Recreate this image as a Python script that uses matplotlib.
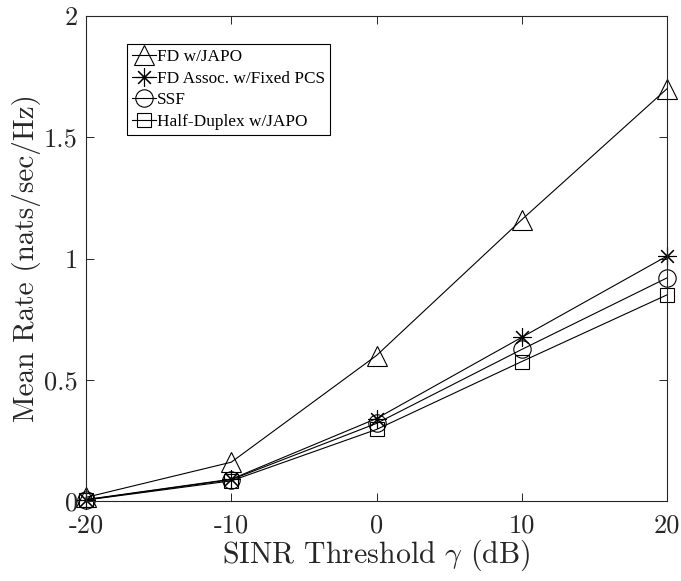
import numpy as np
import matplotlib
matplotlib.use("Agg")
import matplotlib.pyplot as plt

# SINR threshold (dB) and mean rate values
sinr_db = [-20, -10, 0, 10, 20]
fd_japo = [0.015, 0.16, 0.60, 1.16, 1.70]
fd_assoc = [0.006, 0.09, 0.34, 0.675, 1.01]
ssf = [0.005, 0.088, 0.32, 0.625, 0.92]
hd_japo = [0.004, 0.083, 0.295, 0.575, 0.85]

labels = ["FD w/JAPO", "FD Assoc. w/Fixed PCS", "SSF", "Half-Duplex w/JAPO"]
xticks = [-20, -10, 0, 10, 20]
xtick_labels = ["-20", "-10", "0", "10", "20"]
yticks = [0, 0.5, 1, 1.5, 2]
ytick_labels = ["0", "0.5", "1", "1.5", "2"]

plt.rcParams["mathtext.fontset"] = "cm"
plt.rcParams["axes.unicode_minus"] = False

fig = plt.figure(figsize=(6.81, 5.81), dpi=100)
ax = fig.add_axes([86 / 681, 80 / 581, 581 / 681, 485 / 581])

axc = "#262626"
lw = 0.8
common = dict(color="k", lw=lw, mfc="none", mec="k", mew=0.8, clip_on=False)
ax.plot(sinr_db, fd_japo, marker="^", ms=14.5, label=labels[0], **common)
ax.plot(sinr_db, fd_assoc, marker=(8, 2, 0), ms=13, label=labels[1], **common)
ax.plot(sinr_db, ssf, marker="o", ms=12.5, label=labels[2], **common)
ax.plot(sinr_db, hd_japo, marker="s", ms=9.5, label=labels[3], **common)

ax.set_xlim(-20, 20)
ax.set_ylim(0, 2)
ax.set_xticks(xticks)
ax.set_xticklabels(xtick_labels, family="cmr10", fontsize=19)
ax.set_yticks(yticks)
ax.set_yticklabels(ytick_labels, family="cmr10", fontsize=19)
ax.tick_params(direction="in", top=True, right=True, length=6, width=0.7,
               color=axc, labelcolor=axc)
ax.tick_params(axis="x", pad=9)
ax.tick_params(axis="y", pad=6)
for sp in ax.spines.values():
    sp.set_color(axc)
    sp.set_linewidth(0.8)

ax.set_xlabel(r"SINR Threshold $\gamma$ (dB)", family="cmr10", fontsize=21.5,
              color=axc, labelpad=0)
ax.set_ylabel("Mean Rate (nats/sec/Hz)", family="cmr10", fontsize=21,
              color=axc, labelpad=2)

leg = ax.legend(loc="upper left", bbox_to_anchor=(41 / 581, 1 - 28 / 485),
                prop={"family": "Liberation Serif", "size": 12.4},
                fancybox=False, framealpha=1, edgecolor="k",
                handlelength=1.4, handletextpad=0.05, labelspacing=0.32,
                borderpad=0.3, borderaxespad=0)
leg.get_frame().set_linewidth(0.8)

fig.savefig("out.png", dpi=100)
